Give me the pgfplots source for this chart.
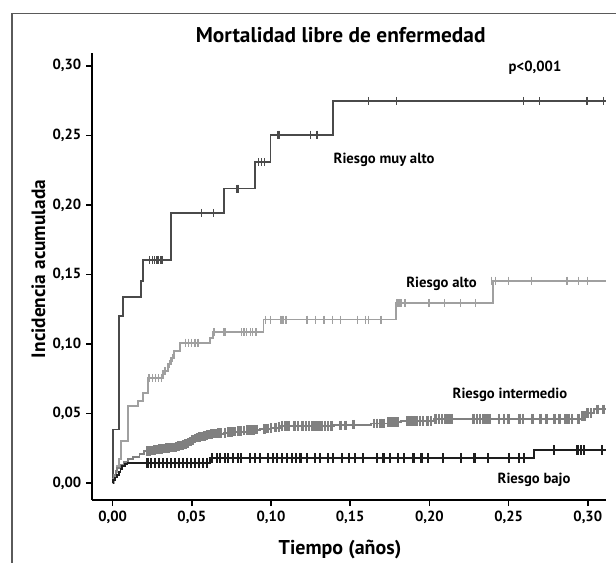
\documentclass[border=0pt]{standalone}
\usepackage{fontspec}
\setmainfont{PT Sans}
\usepackage{pgfplots}
\pgfplotsset{compat=1.18}
\definecolor{cmuyalto}{HTML}{4A4A4A}
\definecolor{calto}{HTML}{A0A0A0}
\definecolor{cinter}{HTML}{808080}
\definecolor{cbajo}{HTML}{1E1E1E}
\definecolor{cframe}{HTML}{5A5A5A}
\tikzset{
  curve/.style={const plot,no marks,line width=1.4pt},
  cens/.style={only marks,mark=|,mark size=3pt,mark options={line width=1pt}}
}
\begin{document}
\begin{tikzpicture}
\begin{axis}[
  at={(69pt,46.5pt)},anchor=south west,
  scale only axis,width=385.5pt,height=335pt,
  xmin=-0.013,xmax=0.3115,ymin=-0.0122,ymax=0.309,
  axis x line*=bottom,axis y line*=left,
  axis line style={line width=1.6pt,black},
  tick align=outside,major tick length=4.5pt,
  tick style={line width=1.3pt,black},
  xtick={0,0.05,0.1,0.15,0.2,0.25,0.3},
  ytick={0,0.05,0.1,0.15,0.2,0.25,0.3},
  scaled ticks=false,
  ticklabel style={font=\bfseries\fontsize{11}{13}\selectfont},
  /pgf/number format/.cd,assume math mode=true,fixed,fixed zerofill,precision=2,use comma,
  /pgfplots/.cd,
  clip=false
]
% Riesgo muy alto
\addplot[curve,cmuyalto] coordinates {
 (0,0) (0.0003,0.0385) (0.0042,0.120) (0.0064,0.134) (0.018,0.1455) (0.019,0.1604)
 (0.0366,0.1943) (0.0705,0.2118) (0.090,0.2308) (0.0997,0.2505) (0.139,0.2748) (0.3115,0.2748)};
\addplot[cens,cmuyalto] coordinates {
 (0.0233,0.1604) (0.025,0.1604) (0.0265,0.1604) (0.028,0.1604) (0.029,0.1604) (0.0305,0.1604) (0.0317,0.1604)
 (0.056,0.1943) (0.0635,0.1943) (0.0785,0.2118) (0.0795,0.2118)
 (0.092,0.2308) (0.094,0.2308) (0.096,0.2308)
 (0.1045,0.2505) (0.1055,0.2505) (0.125,0.2505) (0.129,0.2505)
 (0.1615,0.2748) (0.1793,0.2748) (0.2593,0.2748) (0.2695,0.2748) (0.2995,0.2748) (0.310,0.2748)};
% Riesgo alto
\addplot[curve,calto] coordinates {
 (0,0) (0.001,0.004) (0.002,0.008) (0.003,0.012) (0.004,0.017) (0.0053,0.030) (0.0095,0.0553)
 (0.016,0.059) (0.019,0.065) (0.0222,0.0757) (0.0318,0.0806) (0.035,0.0854) (0.037,0.090)
 (0.039,0.095) (0.0424,0.101) (0.0614,0.1046) (0.0635,0.1085) (0.0953,0.1176) (0.1790,0.1295)
 (0.2399,0.1455) (0.3115,0.1455)};
\addplot[cens,calto] coordinates {
 (0.023,0.0757) (0.025,0.0757) (0.027,0.0757) (0.029,0.0757) (0.031,0.0757) (0.033,0.0806)
 (0.036,0.0854) (0.038,0.090) (0.046,0.101) (0.048,0.101) (0.050,0.101) (0.052,0.101) (0.054,0.101)
 (0.064,0.1085) (0.070,0.1085) (0.071,0.1085) (0.0815,0.1085) (0.083,0.1085) (0.0845,0.1085)
 (0.087,0.1085) (0.0885,0.1085) (0.0905,0.1085)
 (0.0965,0.1176) (0.0995,0.1176) (0.106,0.1176) (0.107,0.1176) (0.108,0.1176) (0.1095,0.1176)
 (0.1228,0.1176) (0.128,0.1176) (0.1334,0.1176) (0.1387,0.1176) (0.144,0.1176) (0.1546,0.1176)
 (0.1595,0.1176) (0.1615,0.1176) (0.1694,0.1176)
 (0.1795,0.1295) (0.1808,0.1295) (0.182,0.1295) (0.1846,0.1295) (0.1997,0.1295) (0.2096,0.1295)
 (0.2195,0.1295) (0.2293,0.1295)
 (0.2392,0.1455) (0.2418,0.1455) (0.2498,0.1455) (0.2646,0.1455) (0.2868,0.1455) (0.2943,0.1455) (0.300,0.1455)};
% Riesgo intermedio
\addplot[curve,cinter] coordinates {
 (0,0) (0.0005,0.003) (0.001,0.006) (0.002,0.009) (0.003,0.011) (0.005,0.013) (0.007,0.015)
 (0.0095,0.017) (0.013,0.019) (0.017,0.021) (0.020,0.0229) (0.030,0.0245) (0.040,0.026)
 (0.046,0.028) (0.049,0.030) (0.052,0.032) (0.056,0.0335) (0.061,0.035) (0.070,0.036)
 (0.076,0.037) (0.085,0.038) (0.093,0.039) (0.100,0.0395) (0.106,0.0412) (0.140,0.0415)
 (0.150,0.042) (0.163,0.0428) (0.1736,0.0438) (0.182,0.0448) (0.203,0.0462) (0.2965,0.048)
 (0.300,0.0505) (0.3038,0.053) (0.3115,0.053)};
\addplot[cens,cinter,mark size=3.6pt,mark options={line width=2pt}] coordinates {
 (0.022,0.0229) (0.0235,0.0232) (0.025,0.0235) (0.0265,0.0237) (0.028,0.024) (0.0295,0.0243)
 (0.031,0.0246) (0.0325,0.0248) (0.034,0.025) (0.0355,0.0252) (0.037,0.0255) (0.0385,0.0257)
 (0.040,0.026) (0.0415,0.0265) (0.043,0.027) (0.0445,0.0275) (0.046,0.028) (0.0475,0.029)
 (0.049,0.030) (0.0505,0.031) (0.052,0.032) (0.0535,0.0328) (0.055,0.0332) (0.0565,0.0336)
 (0.058,0.034) (0.0595,0.0345) (0.061,0.035) (0.0625,0.0352) (0.064,0.0355) (0.0655,0.0357)
 (0.067,0.036) (0.0685,0.036) (0.071,0.0362) (0.073,0.0365) (0.075,0.0368) (0.077,0.037)
 (0.0795,0.0373) (0.081,0.0375) (0.083,0.0377) (0.085,0.038) (0.087,0.038) (0.089,0.0383)
 (0.091,0.0386) (0.096,0.039) (0.098,0.0392) (0.100,0.0395) (0.103,0.040) (0.105,0.0405)
 (0.107,0.0412) (0.109,0.0412) (0.111,0.0412) (0.115,0.0412) (0.117,0.0412) (0.120,0.0412)
 (0.122,0.0412) (0.124,0.0412) (0.126,0.0412) (0.128,0.0412) (0.130,0.0412) (0.132,0.0412)
 (0.134,0.0412) (0.136,0.0412) (0.138,0.0412) (0.144,0.0415) (0.147,0.0415) (0.152,0.042)
 (0.165,0.0428) (0.167,0.0428) (0.169,0.0428) (0.171,0.0428) (0.174,0.0438) (0.176,0.0438)
 (0.178,0.0438) (0.180,0.0438) (0.186,0.0448) (0.188,0.0448) (0.190,0.0448) (0.192,0.0448)
 (0.194,0.0448) (0.196,0.0448) (0.199,0.0448) (0.201,0.0448) (0.204,0.0462) (0.206,0.0462)
 (0.208,0.0462) (0.210,0.0462) (0.212,0.0462) (0.214,0.0462) (0.228,0.0462) (0.230,0.0462)
 (0.232,0.0462) (0.234,0.0462) (0.236,0.0462) (0.238,0.0462) (0.244,0.0462) (0.247,0.0462)
 (0.250,0.0462) (0.257,0.0462) (0.259,0.0462) (0.265,0.0462) (0.270,0.0462) (0.274,0.0462)
 (0.279,0.0462) (0.282,0.0462) (0.286,0.0462) (0.288,0.0462) (0.290,0.0462) (0.294,0.0462)
 (0.2965,0.048) (0.298,0.048) (0.300,0.0505) (0.302,0.0505) (0.306,0.053) (0.310,0.053)};
% Riesgo bajo
\addplot[curve,cbajo] coordinates {
 (0,0) (0.0005,0.002) (0.0015,0.004) (0.003,0.006) (0.004,0.008) (0.005,0.010) (0.006,0.012)
 (0.008,0.0135) (0.0094,0.0145) (0.0614,0.0178) (0.2658,0.0235) (0.3115,0.0235)};
\addplot[cens,cbajo,mark size=3.8pt,mark options={line width=1.6pt}] coordinates {
 (0.022,0.0145) (0.0245,0.0145) (0.027,0.0145) (0.0295,0.0145) (0.032,0.0145) (0.0345,0.0145)
 (0.037,0.0145) (0.0395,0.0145) (0.042,0.0145) (0.0445,0.0145) (0.047,0.0145) (0.0495,0.0145)
 (0.052,0.0145) (0.0545,0.0145) (0.057,0.0145) (0.0595,0.0145)
 (0.063,0.0178) (0.066,0.0178) (0.068,0.0178) (0.071,0.0178) (0.073,0.0178)
 (0.076,0.0178) (0.079,0.0178) (0.081,0.0178) (0.087,0.0178) (0.090,0.0178)
 (0.093,0.0178) (0.098,0.0178) (0.101,0.0178) (0.104,0.0178)
 (0.107,0.0178) (0.110,0.0178) (0.113,0.0178) (0.116,0.0178) (0.1186,0.0178)
 (0.123,0.0178) (0.128,0.0178) (0.131,0.0178) (0.136,0.0178) (0.139,0.0178)
 (0.145,0.0178) (0.149,0.0178) (0.153,0.0178) (0.158,0.0178) (0.167,0.0178) (0.171,0.0178)
 (0.175,0.0178) (0.180,0.0178) (0.184,0.0178) (0.190,0.0178) (0.195,0.0178)
 (0.199,0.0178) (0.2086,0.0178) (0.220,0.0178) (0.2285,0.0178)
 (0.237,0.0178) (0.250,0.0178) (0.2566,0.0178) (0.2596,0.0178)
 (0.2787,0.0235) (0.2935,0.0235) (0.2955,0.0235) (0.2975,0.0235) (0.309,0.0235)};
\end{axis}
\begin{scope}[x=0.75pt,y=0.75pt]
\draw[cframe,line width=1.1pt] (12,-2) -- (12,548.7) -- (618,548.7);
\node[anchor=base,font=\bfseries\fontsize{16}{18}\selectfont] at (340.7,519.3) {Mortalidad libre de enfermedad};
\node[anchor=base west,font=\bfseries\fontsize{11}{13}\selectfont] at (504,491) {p<0,001};
\node[anchor=base west,font=\bfseries\fontsize{11}{13}\selectfont] at (329,398.7) {Riesgo muy alto};
\node[anchor=base west,font=\bfseries\fontsize{11}{13}\selectfont] at (401.7,275) {Riesgo alto};
\node[anchor=base west,font=\bfseries\fontsize{11}{13}\selectfont] at (448,164) {Riesgo intermedio};
\node[anchor=base west,font=\bfseries\fontsize{11}{13}\selectfont] at (493,79) {Riesgo bajo};
\node[anchor=base,font=\bfseries\fontsize{15}{17}\selectfont] at (340,8) {Tiempo (años)};
\node[anchor=base,rotate=90,font=\bfseries\fontsize{14.5}{17}\selectfont] at (45,293) {Incidencia acumulada};
\pgfresetboundingbox
\path (0,0) rectangle (616,562);
\end{scope}
\end{tikzpicture}
\end{document}
